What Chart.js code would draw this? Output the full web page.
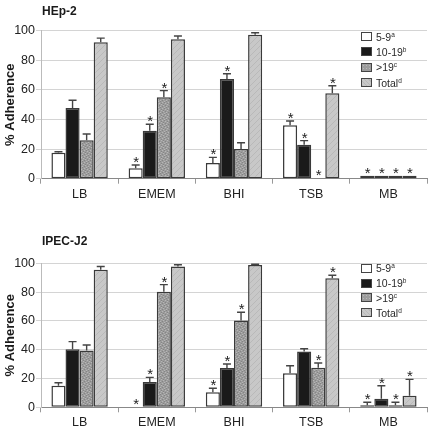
<!DOCTYPE html>
<html>
<head>
<meta charset="utf-8">
<script src="https://cdn.jsdelivr.net/npm/chart.js@4.4.1/dist/chart.umd.min.js"></script>
<style>
  body { margin:0; background:#fff; font-family:"Liberation Sans", Arial, sans-serif; }
  .panel { position:absolute; left:0; width:434px; }
  .title { position:absolute; left:42px; font-weight:bold; font-size:12px; color:#1a1a1a; }
  .legend { position:absolute; left:361px; font-size:10.5px; color:#2a2a2a; }
  .legend .row { display:flex; align-items:center; }
  .legend .box { width:9px; height:7px; border:1px solid #444; margin-right:4px; }
  .legend sup { font-size:6.5px; vertical-align:4px; line-height:0; }
  .b0 { background:#fff; }
  .b1 { background:#1a1a1a; }
  .b2 { background:#9c9c9c radial-gradient(#b8b8b8 30%, transparent 35%) 0 0/3px 3px; }
  .b3 { background:#c8c8c8 repeating-linear-gradient(45deg, #b8b8b8 0 1px, transparent 1px 3px); }
</style>
</head>
<body>

<div class="panel" style="top:0;height:215px"><canvas id="hep" width="434" height="215"></canvas></div>
<div class="panel" style="top:215px;height:216px"><canvas id="ipec" width="434" height="216"></canvas></div>

<div class="title" style="top:4px">HEp-2</div>
<div class="title" style="top:234px">IPEC-J2</div>

<div class="legend" id="legTop" style="top:29px"></div>
<div class="legend" id="legBot" style="top:261px"></div>

<script>
const categories = ["LB", "EMEM", "BHI", "TSB", "MB"];
const seriesLabels = ["5-9", "10-19", ">19", "Total"];
const seriesSup = ["a", "b", "c", "d"];
const yTicks = [0, 20, 40, 60, 80, 100];

// HEp-2
const hep59 = [17.6, 7.0, 10.6, 36.1, 2.0];
const hep59Err = [0.6, 2.3, 3.8, 2.9, 0];
const hep59Star = [0, 1, 1, 1, 1];
const hep1019 = [47.8, 32.4, 67.4, 23.0, 2.0];
const hep1019Err = [5.2, 4.4, 3.5, 2.7, 0];
const hep1019Star = [0, 1, 1, 1, 1];
const hep19 = [25.9, 55.0, 20.0, 0.5, 2.0];
const hep19Err = [4.3, 4.5, 4.3, 0, 0];
const hep19Star = [0, 1, 0, 1, 1];
const hepTot = [92.2, 94.2, 97.3, 57.7, 2.0];
const hepTotErr = [2.8, 2.2, 1.3, 5.1, 0];
const hepTotStar = [0, 0, 0, 1, 1];

// IPEC-J2
const ipec59 = [15.0, 0.3, 10.4, 23.6, 1.4];
const ipec59Err = [2.1, 0, 2.8, 5.3, 2.1];
const ipec59Star = [0, 1, 1, 0, 1];
const ipec1019 = [40.3, 17.6, 27.3, 38.7, 6.0];
const ipec1019Err = [5.3, 3.2, 2.8, 2.0, 9.0];
const ipec1019Star = [0, 1, 1, 0, 1];
const ipec19 = [39.4, 80.3, 60.2, 27.5, 1.4];
const ipec19Err = [3.9, 4.9, 5.8, 3.3, 2.1];
const ipec19Star = [0, 1, 1, 1, 1];
const ipecTot = [95.5, 97.8, 98.8, 89.6, 8.1];
const ipecTotErr = [2.3, 1.2, 0.5, 2.1, 11.3];
const ipecTotStar = [0, 0, 0, 1, 1];

const FONT = '"Liberation Sans", Arial, sans-serif';

function makePattern(base, draw) {
  const c = document.createElement("canvas");
  c.width = 6; c.height = 6;
  const g = c.getContext("2d");
  g.fillStyle = base;
  g.fillRect(0, 0, 6, 6);
  draw(g);
  return g.createPattern(c, "repeat");
}

const dotFill = makePattern("#9c9c9c", g => {
  g.fillStyle = "#b6b6b6";
  [[0,0],[3,1],[1,3],[4,4],[2,5],[5,2]].forEach(p => g.fillRect(p[0], p[1], 1, 1));
  g.fillStyle = "#858585";
  [[2,0],[5,1],[0,4],[3,3],[1,2],[4,5]].forEach(p => g.fillRect(p[0], p[1], 1, 1));
});
const hatchFill = makePattern("#c8c8c8", g => {
  g.fillStyle = "#b9b9b9";
  for (let i = 0; i < 6; i++) g.fillRect(i, 5 - i, 1, 1);
});

const fills = ["#ffffff", "#1a1a1a", dotFill, hatchFill];

// upward error bars plus significance stars, placed through the y scale
const errorPlugin = {
  id: "errs",
  afterDatasetsDraw(chart) {
    const ctx = chart.ctx;
    const y = chart.scales.y;
    ctx.save();
    chart.data.datasets.forEach((ds, di) => {
      const meta = chart.getDatasetMeta(di);
      meta.data.forEach((bar, i) => {
        const v = ds.data[i];
        const e = ds.errs[i];
        let top = bar.y;
        if (e > 0) {
          const ye = y.getPixelForValue(v + e);
          ctx.strokeStyle = "#444";
          ctx.lineWidth = 1.4;
          ctx.beginPath();
          ctx.moveTo(bar.x, bar.y);
          ctx.lineTo(bar.x, ye);
          ctx.moveTo(bar.x - 4, ye);
          ctx.lineTo(bar.x + 4, ye);
          ctx.stroke();
          top = ye;
        }
        if (ds.stars[i]) {
          ctx.fillStyle = "#222";
          ctx.font = "15px " + FONT;
          ctx.textAlign = "center";
          ctx.textBaseline = "alphabetic";
          ctx.fillText("*", bar.x + 0.5, top + 2);
        }
      });
    });
    ctx.restore();
  }
};

function makeChart(id, series, errs, stars, padTop, xHeight) {
  new Chart(document.getElementById(id), {
    type: "bar",
    data: {
      labels: categories,
      datasets: series.map((d, k) => ({
        label: seriesLabels[k],
        data: d,
        errs: errs[k],
        stars: stars[k],
        backgroundColor: fills[k],
        borderColor: "#3a3a3a",
        borderWidth: 1.5,
        borderSkipped: false,
        categoryPercentage: 0.73,
        barPercentage: 1.0
      }))
    },
    options: {
      responsive: false,
      animation: false,
      layout: { padding: { top: padTop, right: 7, left: 0, bottom: 0 } },
      plugins: { legend: { display: false }, tooltip: { enabled: false } },
      scales: {
        x: {
          afterFit: s => { s.height = xHeight; },
          grid: { offset: true, drawOnChartArea: false, drawTicks: true, tickLength: 5, color: "#999" },
          border: { display: true, color: "#888", width: 1 },
          ticks: { color: "#222", padding: 3, font: { family: FONT, size: 12.5 } }
        },
        y: {
          min: 0, max: 100,
          afterFit: s => { s.width = 41; },
          afterBuildTicks: s => { s.ticks = yTicks.map(v => ({ value: v })); },
          grid: { color: "#d4d4d4", tickLength: 5, drawTicks: true },
          border: { display: true, color: "#bbb" },
          ticks: { color: "#222", padding: 1, font: { family: FONT, size: 12.5 } },
          title: { display: true, text: "% Adherence", color: "#1a1a1a", padding: { top: 3, bottom: 0 },
                   font: { family: FONT, size: 13, weight: "bold" } }
        }
      }
    },
    plugins: [errorPlugin]
  });
}

makeChart("hep",
  [hep59, hep1019, hep19, hepTot],
  [hep59Err, hep1019Err, hep19Err, hepTotErr],
  [hep59Star, hep1019Star, hep19Star, hepTotStar],
  30.7, 36.3);

makeChart("ipec",
  [ipec59, ipec1019, ipec19, ipecTot],
  [ipec59Err, ipec1019Err, ipec19Err, ipecTotErr],
  [ipec59Star, ipec1019Star, ipec19Star, ipecTotStar],
  48.3, 23.7);

function buildLegend(id, rowH) {
  const box = document.getElementById(id);
  seriesLabels.forEach((lab, k) => {
    const row = document.createElement("div");
    row.className = "row";
    row.style.height = rowH + "px";
    const b = document.createElement("span");
    b.className = "box b" + k;
    row.appendChild(b);
    const t = document.createElement("span");
    t.textContent = lab;
    const s = document.createElement("sup");
    s.textContent = seriesSup[k];
    t.appendChild(s);
    row.appendChild(t);
    box.appendChild(row);
  });
}
buildLegend("legTop", 15.3);
buildLegend("legBot", 14.8);
</script>
</body>
</html>
